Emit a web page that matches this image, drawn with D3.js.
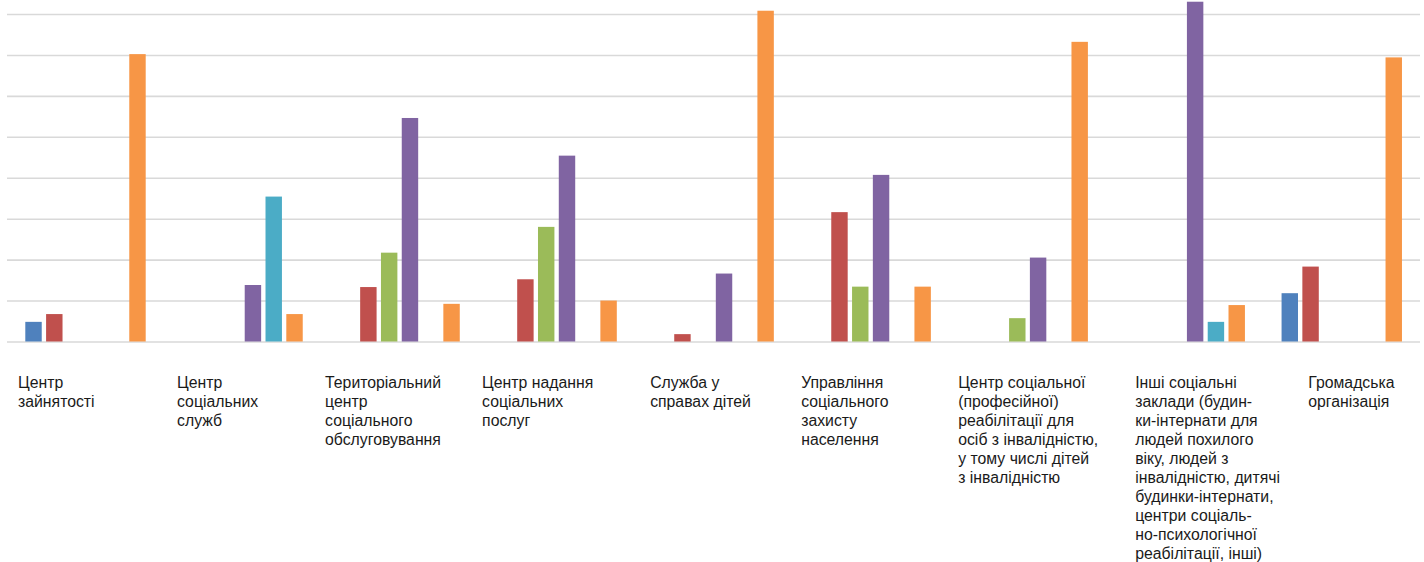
<!DOCTYPE html>
<html>
<head>
<meta charset="utf-8">
<script src="https://cdn.jsdelivr.net/npm/d3@7"></script>
<style>
  body { margin: 0; background: #fff; }
  svg { display: block; }
</style>
</head>
<body>
<script>

// categories (each label already split in lines as in the original)
var categories = [
  ["Центр", "зайнятості"],
  ["Центр", "соціальних", "служб"],
  ["Територіальний", "центр", "соціального", "обслуговування"],
  ["Центр надання", "соціальних", "послуг"],
  ["Служба у", "справах дітей"],
  ["Управління", "соціального", "захисту", "населення"],
  ["Центр соціальної", "(професійної)", "реабілітації для", "осіб з інвалідністю,", "у тому числі дітей", "з інвалідністю"],
  ["Інші соціальні", "заклади (будин-", "ки-інтернати для", "людей похилого", "віку, людей з", "інвалідністю, дитячі", "будинки-інтернати,", "центри соціаль-", "но-психологічної", "реабілітації, інші)"],
  ["Громадська", "організація"]
];

// six series, one value per category
var series1 = [2.4, 0, 0, 0, 0, 0, 0, 0, 5.9];
var series2 = [3.35, 0, 6.65, 7.6, 0.9, 15.8, 0, 0, 9.15];
var series3 = [0, 0, 10.85, 14.0, 0, 6.7, 2.85, 0, 0];
var series4 = [0, 6.9, 27.3, 22.7, 8.3, 20.35, 10.25, 41.5, 0];
var series5 = [0, 17.7, 0, 0, 0, 0, 0, 2.4, 0];
var series6 = [35.1, 3.35, 4.6, 5.0, 40.4, 6.7, 36.6, 4.45, 34.7];

var gridTicks = [0, 5, 10, 15, 20, 25, 30, 35, 40];

var allSeries = [series1, series2, series3, series4, series5, series6];
var colors = ["#4f81bd", "#c0504d", "#9bbb59", "#8064a2", "#4bacc6", "#f79646"];

// label nudges (px from band start) - labels in the source sit a bit unevenly
var labelNudge = [11, 13, 4, 4, 15, 9, 9, 29, 45];

var width = 1424, height = 562;

var svg = d3.select("body").append("svg")
    .attr("width", width)
    .attr("height", height);

var x0 = d3.scaleBand()
    .domain(d3.range(categories.length))
    .range([7, 1420.3])
    .padding(0);

var x1 = d3.scaleBand()
    .domain(d3.range(allSeries.length))
    .range([18.3, 138.7])
    .paddingInner(0.21)
    .paddingOuter(0);

var y = d3.scaleLinear()
    .domain([0, 40])
    .range([341.5, 14]);

// grid lines
svg.append("g")
    .attr("class", "grid")
    .attr("transform", "translate(7,0)")
    .call(d3.axisLeft(y).tickValues(gridTicks).tickSize(-(1420 - 7)).tickFormat(""))
    .call(function(g) { g.select(".domain").remove(); })
    .selectAll("line")
      .attr("stroke", "#d9d9d9")
      .attr("stroke-width", 1.6);

// bars
var groups = svg.append("g").selectAll("g")
    .data(categories)
    .join("g")
      .attr("transform", function(d, i) { return "translate(" + x0(i) + ",0)"; });

groups.selectAll("rect")
    .data(function(d, i) {
      return allSeries.map(function(s, k) { return {k: k, v: s[i]}; })
        .filter(function(e) { return e.v > 0; });
    })
    .join("rect")
      .attr("x", function(d) { return x1(d.k); })
      .attr("y", function(d) { return y(d.v); })
      .attr("width", x1.bandwidth())
      .attr("height", function(d) { return y(0) - y(d.v); })
      .attr("fill", function(d) { return colors[d.k]; });

// category labels
var labels = svg.append("g")
    .attr("font-family", "'Liberation Sans', Arial, sans-serif")
    .attr("font-size", "15.8px")
    .attr("fill", "#1a1a1a");

categories.forEach(function(lines, i) {
  var t = labels.append("text")
      .attr("x", x0(i) + labelNudge[i])
      .attr("y", 387.5);
  t.selectAll("tspan")
      .data(lines)
      .join("tspan")
        .attr("x", x0(i) + labelNudge[i])
        .attr("dy", function(d, j) { return j === 0 ? 0 : 19.1; })
        .text(function(d) { return d; });
});

</script>
</body>
</html>
